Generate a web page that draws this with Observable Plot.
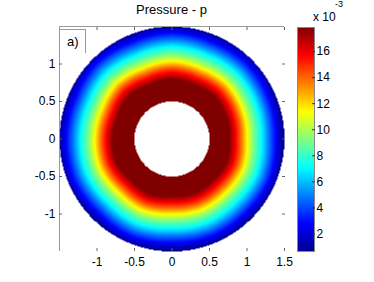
<!DOCTYPE html>
<html><head><meta charset="utf-8">
<script src="https://cdn.jsdelivr.net/npm/d3@7"></script>
<script src="https://cdn.jsdelivr.net/npm/@observablehq/plot@0.6"></script>
<style>
body{margin:0;background:#fff;}
#wrap{position:relative;width:374px;height:282px;overflow:hidden;font-family:"Liberation Sans",Arial,sans-serif;color:#000;}
#main,#cbar{position:absolute;top:0;}
#main{left:0;}
#cbar{left:280px;}
.title{position:absolute;left:0;width:343px;top:2px;text-align:center;font-size:13px;}
.tag{position:absolute;left:60px;top:29px;width:26px;height:24px;border-top:1px solid #999;border-right:1px solid #999;box-sizing:border-box;font-size:13px;}
.tag span{position:absolute;left:7px;top:4px;}
.mult{position:absolute;left:313px;top:10px;font-size:12px;}
.exp{position:absolute;left:335px;top:-1px;font-size:9px;}
</style></head>
<body><div id="wrap">
<div id="main"></div><div id="cbar"></div>
<div class="title">Pressure - p</div>
<div class="tag"><span>a)</span></div>
<div class="mult">x 10</div><div class="exp">-3</div>
</div>
<script>
// radial pressure profile (x 10^-3)
const radius   = [0.50, 0.78, 0.87, 0.95, 1.02, 1.10, 1.21, 1.30, 1.40, 1.50];
const pressure = [19.5, 17.85, 15.7, 13.6, 11.4, 9.3, 7.1, 5.0, 2.8, 0.65];
// small angular wobble of the contour rings (radial shift, by angle in degrees)
const angleDeg     = [0, 22.5, 45, 67.5, 90, 112.5, 135, 157.5, 180, 202.5, 225, 247.5, 270, 292.5, 315, 337.5];
const contourShift = [-0.02, 0.0, 0.02, 0.0, 0.02, 0.0, 0.03, 0.0, 0.01, 0.02, -0.01, 0.01, -0.02, 0.0, -0.01, 0.01];
const annulus = [0.5, 1.5];          // inner, outer radius
const axisLimits = [-1.5, 1.5];
const xTicks = [-1, -0.5, 0, 0.5, 1, 1.5];
const yTicks = [-1, -0.5, 0, 0.5, 1];
const cbarTicks = [2, 4, 6, 8, 10, 12, 14, 16];
const colorDomain = [0.65, 2.80, 7.10, 11.40, 15.70, 17.85];
const jetColors = ["#00008f", "#0000ff", "#00ffff", "#ffff00", "#ff0000", "#800000"];

const pOfR = d3.scaleLinear(radius, pressure).clamp(true);
function shiftAt(th) {
  const n = angleDeg.length, step = 360 / n;
  const i = Math.floor(th / step) % n, t = (th - angleDeg[i]) / step;
  return contourShift[i] * (1 - t) + contourShift[(i + 1) % n] * t;
}
function field(x, y) {
  const r = Math.hypot(x, y);
  if (r < annulus[0] || r > annulus[1]) return NaN;
  const th = (Math.atan2(y, x) * 180 / Math.PI + 360) % 360;
  return pOfR(r - shiftAt(th));
}
const colorOpts = {type: "linear", domain: colorDomain, range: jetColors, interpolate: "rgb", clamp: true};
const fmt = d => String(d);
const font = {fontFamily: "Liberation Sans, Arial, sans-serif", fontSize: "12px", background: "transparent", overflow: "visible"};

const main = Plot.plot({
  width: 300, height: 282,
  marginLeft: 59, marginRight: 16, marginTop: 26, marginBottom: 31,
  style: font,
  x: {domain: axisLimits},
  y: {domain: axisLimits},
  color: colorOpts,
  marks: [
    Plot.raster({x1: axisLimits[0], x2: axisLimits[1], y1: axisLimits[0], y2: axisLimits[1], fill: field, pixelSize: 1}),
    Plot.ruleY([axisLimits[1]], {stroke: "#999"}),
    Plot.ruleX([axisLimits[0]], {stroke: "#999"}),
    Plot.axisX(xTicks, {anchor: "bottom", tickSize: 0, tickPadding: 6, tickFormat: fmt, fontSize: 12, label: null}),
    Plot.axisY(yTicks, {anchor: "left", tickSize: 0, tickPadding: 4, tickFormat: fmt, fontSize: 12, label: null}),
    Plot.axisX(xTicks, {anchor: "bottom", tickSize: -3, tickFormat: () => "", stroke: "#666", label: null}),
    Plot.axisX(xTicks, {anchor: "top", tickSize: -3, tickFormat: () => "", stroke: "#666", label: null}),
    Plot.axisY(yTicks, {anchor: "left", tickSize: -3, tickFormat: () => "", stroke: "#666", label: null}),
    Plot.axisY(yTicks, {anchor: "right", tickSize: -3, tickFormat: () => "", stroke: "#666", label: null})
  ]
});
document.getElementById("main").append(main);

const lo = colorDomain[0], hi = colorDomain[colorDomain.length - 1];
const cbar = Plot.plot({
  width: 94, height: 282,
  marginLeft: 17, marginRight: 60, marginTop: 27, marginBottom: 31,
  style: font,
  x: {domain: [0, 1], axis: null},
  y: {domain: [lo, hi], axis: null},
  color: colorOpts,
  marks: [
    Plot.raster({x1: 0, x2: 1, y1: lo, y2: hi, fill: (x, y) => y, pixelSize: 1}),
    Plot.frame({stroke: "#888"}),
    Plot.axisY(cbarTicks, {anchor: "right", tickSize: 0, tickPadding: 2, tickFormat: fmt, fontSize: 12, label: null}),
    Plot.axisY(cbarTicks, {anchor: "right", tickSize: -3, tickFormat: () => "", stroke: "#333", label: null})
  ]
});
document.getElementById("cbar").append(cbar);
</script>
</body></html>
